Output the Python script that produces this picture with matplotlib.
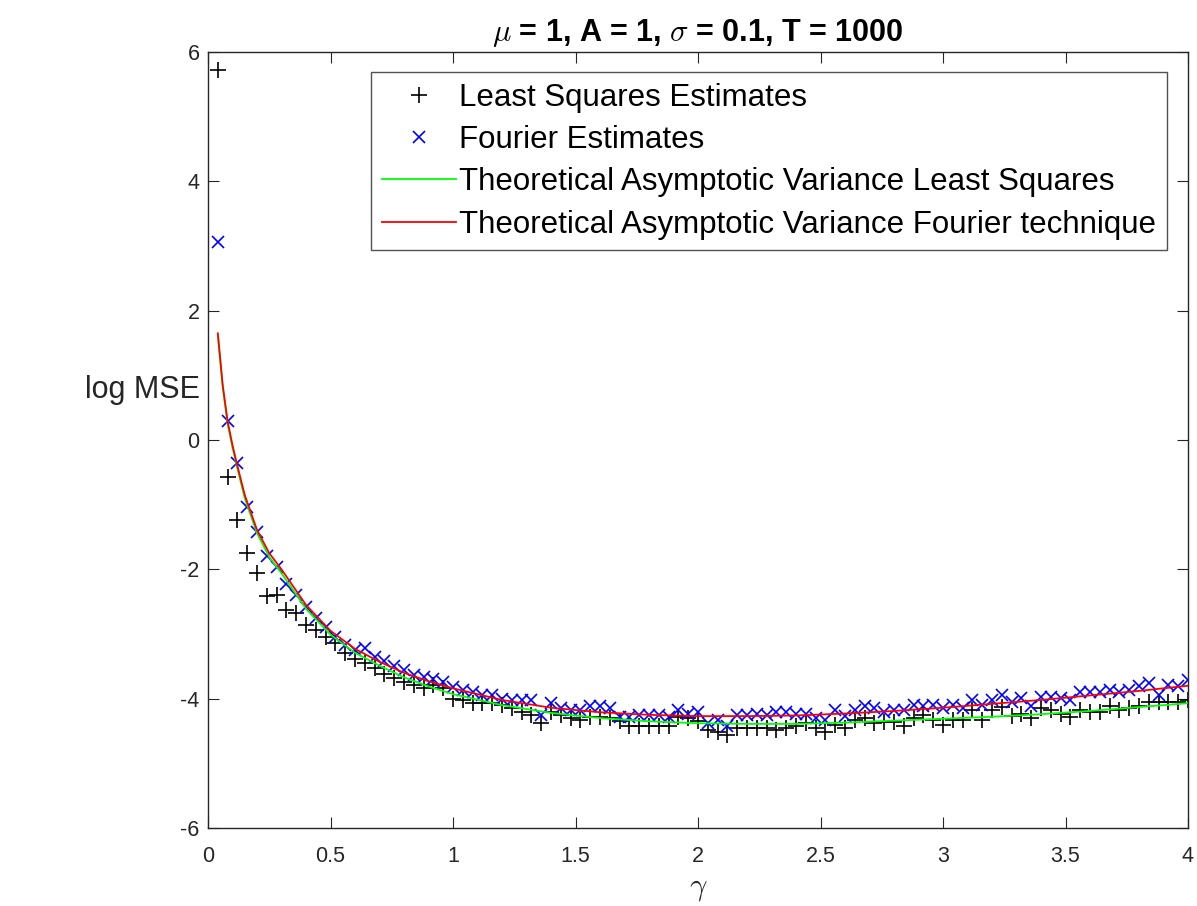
import matplotlib
matplotlib.use("Agg")
import matplotlib.pyplot as plt
import numpy as np

plt.rcParams['font.family'] = ['Liberation Sans', 'DejaVu Sans']
plt.rcParams['mathtext.fontset'] = 'cm'
plt.rcParams['axes.unicode_minus'] = False

# gamma grid for the simulated estimates
gamma = np.round(np.arange(1, 101) * 0.04, 2)

# log MSE of least squares estimates
ls_est = [5.72, -0.57, -1.24, -1.75, -2.06, -2.42, -2.40, -2.63, -2.68, -2.86,
          -2.94, -3.04, -3.14, -3.30, -3.38, -3.45, -3.53, -3.62, -3.68, -3.74,
          -3.79, -3.84, -3.79, -3.84, -4.00, -4.02, -4.07, -4.07, -4.07, -4.10,
          -4.15, -4.20, -4.25, -4.38, -4.20, -4.25, -4.30, -4.33, -4.28, -4.28,
          -4.30, -4.35, -4.43, -4.43, -4.43, -4.43, -4.43, -4.28, -4.30, -4.35,
          -4.48, -4.51, -4.56, -4.46, -4.46, -4.46, -4.46, -4.48, -4.46, -4.43,
          -4.38, -4.46, -4.51, -4.40, -4.46, -4.33, -4.30, -4.38, -4.36, -4.36,
          -4.43, -4.30, -4.25, -4.33, -4.41, -4.33, -4.33, -4.17, -4.33, -4.17,
          -4.13, -4.27, -4.24, -4.30, -4.15, -4.18, -4.23, -4.28, -4.18, -4.20,
          -4.20, -4.12, -4.18, -4.15, -4.12, -4.05, -4.05, -4.05, -4.05, -4.02]

# log MSE of Fourier estimates
fourier_est = [3.06, 0.29, -0.36, -1.03, -1.42, -1.79, -1.97, -2.22, -2.40, -2.58,
               -2.76, -2.89, -3.04, -3.17, -3.25, -3.22, -3.35, -3.42, -3.50, -3.56,
               -3.63, -3.66, -3.69, -3.74, -3.82, -3.87, -3.89, -3.94, -3.94, -4.00,
               -4.02, -4.02, -4.02, -4.25, -4.07, -4.15, -4.17, -4.17, -4.12, -4.12,
               -4.15, -4.28, -4.28, -4.25, -4.25, -4.25, -4.28, -4.17, -4.23, -4.20,
               -4.38, -4.33, -4.43, -4.25, -4.25, -4.23, -4.25, -4.20, -4.20, -4.23,
               -4.23, -4.30, -4.33, -4.18, -4.27, -4.17, -4.12, -4.15, -4.20, -4.17,
               -4.17, -4.10, -4.12, -4.10, -4.15, -4.10, -4.15, -4.02, -4.10, -4.02,
               -3.94, -4.05, -3.99, -4.12, -3.97, -3.97, -3.99, -4.02, -3.89, -3.89,
               -3.89, -3.87, -3.89, -3.87, -3.81, -3.76, -3.94, -3.79, -3.81, -3.71]

# theoretical asymptotic variance curves
gamma_th = [0.04, 0.06, 0.08, 0.10, 0.12, 0.15, 0.20, 0.25, 0.30, 0.40, 0.50,
            0.60, 0.70, 0.80, 0.90, 1.00, 1.20, 1.40, 1.60, 1.80, 2.00, 2.20,
            2.40, 2.60, 2.80, 3.00, 3.20, 3.40, 3.60, 3.80, 4.00]
ls_theory = [1.62, 0.82, 0.25, -0.12, -0.44, -0.90, -1.44, -1.81, -2.06, -2.61, -3.01,
             -3.29, -3.49, -3.67, -3.81, -3.93, -4.10, -4.22, -4.30, -4.35, -4.38, -4.39,
             -4.39, -4.37, -4.34, -4.31, -4.28, -4.24, -4.19, -4.13, -4.07]
fourier_theory = [1.65, 0.85, 0.29, -0.08, -0.40, -0.85, -1.39, -1.75, -2.00, -2.55, -2.95,
                  -3.23, -3.43, -3.60, -3.73, -3.84, -4.02, -4.14, -4.21, -4.25, -4.27, -4.27,
                  -4.26, -4.23, -4.19, -4.14, -4.08, -4.02, -3.95, -3.88, -3.80]

fig = plt.figure(figsize=(11.97, 9.06), dpi=100)
ax = fig.add_axes([208 / 1197, 78 / 906, 980 / 1197, 776 / 906])

axis_col = '#262626'

ax.plot(gamma, ls_est, '+', color='black', markersize=11, markeredgewidth=1.2,
        label='Least Squares Estimates')
ax.plot(gamma, fourier_est, 'x', color='blue', markersize=8.5, markeredgewidth=1.2,
        label='Fourier Estimates')
ax.plot(gamma_th, ls_theory, '-', color=(0, 1, 0), lw=1.3,
        label='Theoretical Asymptotic Variance Least Squares')
ax.plot(gamma_th, fourier_theory, '-', color=(1, 0, 0), lw=1.3,
        label='Theoretical Asymptotic Variance Fourier technique')

ax.set_xlim(0, 4)
ax.set_ylim(-6, 6)
ax.set_xticks(np.arange(0, 4.01, 0.5))
ax.set_xticklabels(['0', '0.5', '1', '1.5', '2', '2.5', '3', '3.5', '4'])
ax.set_yticks(np.arange(-6, 7, 2))
ax.tick_params(direction='in', length=8, width=0.8, top=True, right=True,
               labelsize=15.5, colors=axis_col)
ax.tick_params(axis='x', pad=13)
ax.tick_params(axis='y', pad=6)
for s in ax.spines.values():
    s.set_color(axis_col)
    s.set_linewidth(1.0)

ax.set_title(r'$\mu$ = 1, A = 1, $\sigma$ = 0.1, T = 1000', fontsize=22,
             fontweight='bold', pad=8)
ax.set_xlabel(r'$\gamma$', fontsize=22, color=axis_col, labelpad=4)
ax.set_ylabel('log MSE', fontsize=22, color=axis_col, rotation=0,
              ha='right', va='center')
ax.yaxis.set_label_coords(-0.008, 0.564)

leg = ax.legend(loc='upper right', bbox_to_anchor=(1167 / 1197, 1 - 72 / 906),
                bbox_transform=fig.transFigure, fontsize=22.5, frameon=True,
                fancybox=False, edgecolor=axis_col, handlelength=2.37,
                handletextpad=0.1, borderpad=0.35, labelspacing=0.39,
                borderaxespad=0)
leg.get_frame().set_linewidth(1.0)

fig.savefig('out.png', dpi=100)
